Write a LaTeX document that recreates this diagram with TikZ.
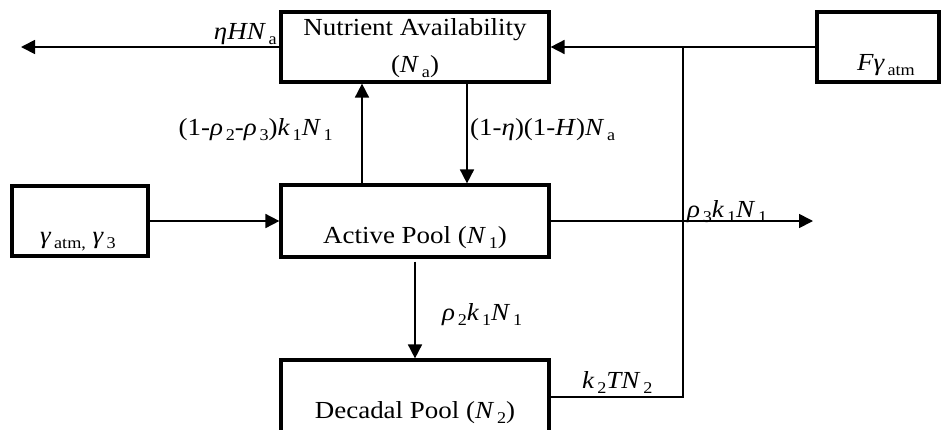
\documentclass[tikz,border=0pt]{standalone}
\usepackage{fontspec}
\setmainfont{Liberation Serif}
\usetikzlibrary{arrows.meta}
% text is set slightly wide, subscripts small and lowered
\newcommand\wideText[1]{\scalebox{1.1}[1]{#1}}
\newcommand\lowSub[1]{\kern2.5pt\raisebox{-5pt}{\fontsize{16.5}{16.5}\selectfont #1}}
\newcommand\iv[1]{\textit{#1}}
\begin{document}
\begin{tikzpicture}[x=1pt,y=-1pt,
  box/.style={draw, line width=3.2pt, rectangle, inner sep=0pt},
  lbl/.style={inner sep=0pt, font=\fontsize{24.5}{28}\selectfont},
  arr/.style={line width=1.7pt, -{Triangle[length=14pt,width=14pt]}},
  feed/.style={line width=1.3pt}]
\useasboundingbox (0,0) rectangle (941,429);
\clip (0,0) rectangle (941,429);

% compartments
\node[box, minimum width=268pt, minimum height=70pt] (nut) at (415,47) {};
\node[box, minimum width=122pt, minimum height=70pt] (F)   at (878,47) {};
\node[box, minimum width=136pt, minimum height=70pt] (gam) at (80,221) {};
\node[box, minimum width=268pt, minimum height=72pt] (act) at (415,221) {};
\node[box, minimum width=268pt, minimum height=74pt] (dec) at (415,397) {};

% box texts
\node[lbl, anchor=base] (nutT1) at (415,35) {\wideText{Nutrient Availability}};
\node[lbl, anchor=base] (nutT2) at (415,72) {\wideText{(\iv{N}\lowSub{a})}};
\node[lbl, anchor=base west] (FT) at (857,70) {\wideText{\iv{Fγ}\lowSub{atm}}};
\node[lbl, anchor=base west] (gamT) at (40,243) {\wideText{\iv{γ}\lowSub{atm,} \iv{γ}\lowSub{3}}};
\node[lbl, anchor=base] (actT) at (415,243) {\wideText{Active Pool (\iv{N}\lowSub{1})}};
\node[lbl, anchor=base] (decT) at (415,418) {\wideText{Decadal Pool (\iv{N}\lowSub{2})}};

% free ends and bends
\coordinate (leftEnd) at (21,47);
\coordinate (junc) at (683,47);
\coordinate (rightEnd) at (813,221);
\coordinate (corner) at (683,397);
\coordinate (upx) at (362,0);
\coordinate (dnx) at (467,0);

% flows
\draw[arr] (nut.west) -- (leftEnd);
\draw[arr] (F.west) -- (nut.east);
\draw[feed] (dec.east) -- (corner) -- (junc);
\draw[arr] (gam.east) -- (act.west);
\draw[arr] (act.east) -- (rightEnd);
\draw[arr] (act.north -| upx) -- (nut.south -| upx);
\draw[arr] (nut.south -| dnx) -- (act.north -| dnx);
\draw[arr] ([yshift=-3pt]act.south) -- (dec.north);

% flow labels
\node[lbl, anchor=base east] (lOut) at (277,39) {\wideText{\iv{ηHN}\lowSub{a}}};
\node[lbl, anchor=base east] (lUp) at (333,135) {\wideText{(1-\iv{ρ}\lowSub{2}-\iv{ρ}\lowSub{3})\iv{k}\lowSub{1}\iv{N}\lowSub{1}}};
\node[lbl, anchor=base west] (lDn) at (470,135) {\wideText{(1-\iv{η})(1-\iv{H})\iv{N}\lowSub{a}}};
\node[lbl, anchor=base west] (lR) at (687,217) {\wideText{\iv{ρ}\lowSub{3}\iv{k}\lowSub{1}\iv{N}\lowSub{1}}};
\node[lbl, anchor=base west] (lD) at (442,320) {\wideText{\iv{ρ}\lowSub{2}\iv{k}\lowSub{1}\iv{N}\lowSub{1}}};
\node[lbl, anchor=base west] (lK) at (582,388) {\wideText{\iv{k}\lowSub{2}\iv{TN}\lowSub{2}}};
\end{tikzpicture}
\end{document}
